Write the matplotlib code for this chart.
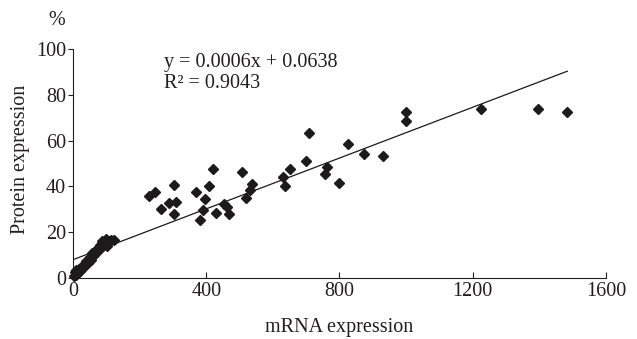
import numpy as np
import matplotlib
matplotlib.use("Agg")
import matplotlib.pyplot as plt

plt.rcParams['font.family'] = ['Liberation Serif', 'DejaVu Serif']

# data (mRNA expression, protein expression %)
mrna = [2, 5, 8, 10, 15, 18, 22, 25, 30, 35, 40, 45, 50, 55, 58, 62, 65, 70,
        75, 80, 85, 88, 92, 98, 102, 108, 115, 122,
        228, 245, 264, 287, 302, 309, 304,
        369, 381, 389, 397, 407, 419, 429, 452, 462, 469,
        506, 519, 531, 536,
        630, 637, 652, 700, 708, 757, 762, 798, 826, 875, 930,
        1000, 1000, 1226, 1396, 1484]
protein = [1, 2.5, 1.5, 3.5, 2, 4, 3, 5, 4.5, 6, 7.5, 6.5, 9, 8, 11, 10, 12, 11,
           13, 14.5, 13, 16, 15, 17, 14, 16, 16.8, 16.5,
           36, 37.5, 30, 32.6, 40.6, 33.4, 28,
           37.7, 25.3, 29.7, 34.4, 40.2, 47.5, 28.2, 32.5, 31, 28,
           46.4, 34.8, 38.4, 41,
           44, 40.3, 47.6, 51, 63.5, 45.6, 48.4, 41.4, 58.7, 54, 53.4,
           72.6, 68.5, 73.7, 73.7, 72.5]

# linear trend as drawn
trend_x = [0, 1484]
trend_slope = 0.0555
trend_intercept = 8.0

xticks = [0, 400, 800, 1200, 1600]
yticks = [0, 20, 40, 60, 80, 100]

W, H = 637, 339
my_dpi = 100
fig = plt.figure(figsize=(W / my_dpi, H / my_dpi), dpi=my_dpi)
ax = fig.add_axes([0.1146, 0.180, 0.8366, 0.675])

ax.plot(mrna, protein, linestyle='none', marker='D', markersize=5.2,
        color='#1c1a1b', clip_on=False, zorder=3)

tx = np.array(trend_x)
ax.plot(tx, trend_slope * tx + trend_intercept, color='#1c1a1b', linewidth=0.9,
        zorder=2)

ax.set_xlim(0, 1600)
ax.set_ylim(0, 100)
ax.set_xticks(xticks)
ax.set_yticks(yticks)

for s in ['top', 'right']:
    ax.spines[s].set_visible(False)
for s in ['left', 'bottom']:
    ax.spines[s].set_linewidth(0.8)
    ax.spines[s].set_color('#231f20')

ax.tick_params(axis='x', direction='in', length=4, width=0.8, pad=3,
               labelsize=14.5, colors='#231f20')
ax.tick_params(axis='y', direction='out', length=3.5, width=0.8, pad=1.5,
               labelsize=14.5, colors='#231f20')

ax.text(0.5, -0.215, 'mRNA expression', transform=ax.transAxes, ha='center',
        va='center', fontsize=14.5, color='#231f20')
ax.text(-0.099, 0.52, 'Protein expression', transform=ax.transAxes,
        rotation=90, ha='center', va='center', fontsize=14.5, color='#231f20')
ax.text(-0.03, 1.127, '%', transform=ax.transAxes, ha='center', va='center',
        fontsize=14.5, color='#231f20')

ax.text(274, 94, 'y = 0.0006x + 0.0638', ha='left', va='center',
        fontsize=14.5, color='#231f20')
ax.text(274, 85, 'R\u00b2 = 0.9043', ha='left', va='center',
        fontsize=14.5, color='#231f20')

plt.savefig('out.png', dpi=my_dpi)
